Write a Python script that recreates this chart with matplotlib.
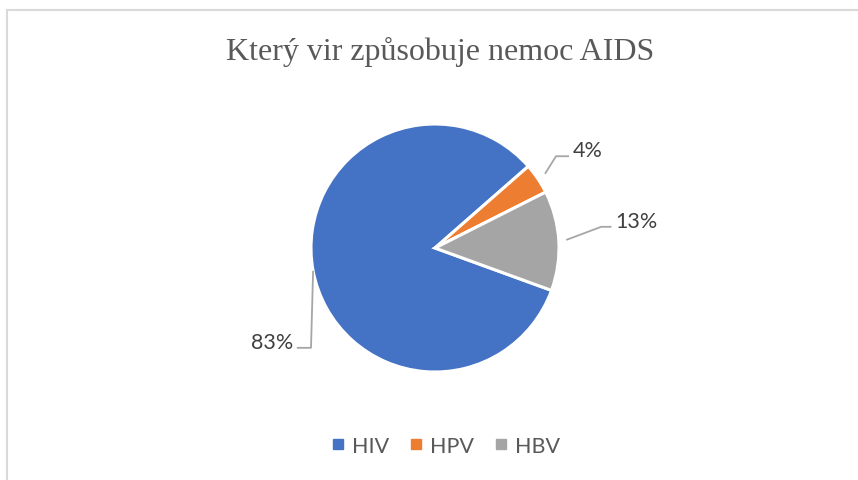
import numpy as np
import matplotlib.pyplot as plt
from matplotlib.lines import Line2D

# data
labels = ['HIV', 'HPV', 'HBV']
values = [83, 4, 13]
colors = ['#4472C4', '#ED7D31', '#A5A5A5']
pct_labels = ['83%', '4%', '13%']
title = 'Který vir způsobuje nemoc AIDS'

W, H = 858, 481
fig = plt.figure(figsize=(W / 100, H / 100), dpi=100)

# pie axes: centre (435, 249) px, radius 124 px
r_px = 124
cx, cy = 435, 249
ax = fig.add_axes([(cx - r_px) / W, 1 - (cy + r_px) / H, 2 * r_px / W, 2 * r_px / H])
wedges, _ = ax.pie(values, colors=colors, startangle=-20, counterclock=False,
                   radius=1.0, wedgeprops=dict(edgecolor='white', linewidth=2.2))
ax.set_xlim(-1, 1)
ax.set_ylim(-1, 1)
ax.set_aspect('equal')
ax.axis('off')

# leader lines: (start radius, elbow xy, end dx)
elbows = [(-1.0, -0.805), (0.976, 0.74), (1.341, 0.171)]
start_r = [1.0, 1.07, 1.06]
end_dx = [-0.114, 0.105, 0.082]
line_col = '#A6A6A6'
for w, lab, (ex, ey), sr, dx in zip(wedges, pct_labels, elbows, start_r, end_dx):
    ang = np.deg2rad((w.theta1 + w.theta2) / 2)
    sx, sy = sr * np.cos(ang), sr * np.sin(ang)
    if lab == '13%':
        sy = 0.065
        sx = np.sqrt(sr**2 - sy**2)
    ax.plot([sx, ex, ex + dx], [sy, ey, ey], color=line_col, lw=1.3,
            clip_on=False, solid_capstyle='butt')
    tx = ex + dx + (0.03 if dx > 0 else -0.03)
    ax.text(tx, ey + 0.05, lab, ha='left' if dx > 0 else 'right', va='center',
            fontsize=15.5, color='#404040', family='Lato')

fig.text(440 / W, 1 - 52 / H, title, ha='center', va='center',
         fontsize=23, color='#595959', family='Liberation Serif')

handles = [Line2D([], [], marker='s', ls='none', markersize=7.5,
                  markerfacecolor=c, markeredgecolor=c) for c in colors]
fig.legend(handles, labels, loc='center', bbox_to_anchor=(445 / W, 1 - 447 / H),
           ncol=3, frameon=False, handlelength=0.7,
           handletextpad=0.3, columnspacing=0.9,
           prop=dict(family='Lato', size=15.5), labelcolor='#595959')

# chart border (top and left visible)
fig.add_artist(Line2D([7 / W, 7 / W], [0, 1 - 11 / H], color='#D9D9D9', lw=1.5))
fig.add_artist(Line2D([7 / W, 1], [1 - 11 / H, 1 - 11 / H], color='#D9D9D9', lw=1.5))

fig.savefig('out.png', dpi=100, facecolor='white')
